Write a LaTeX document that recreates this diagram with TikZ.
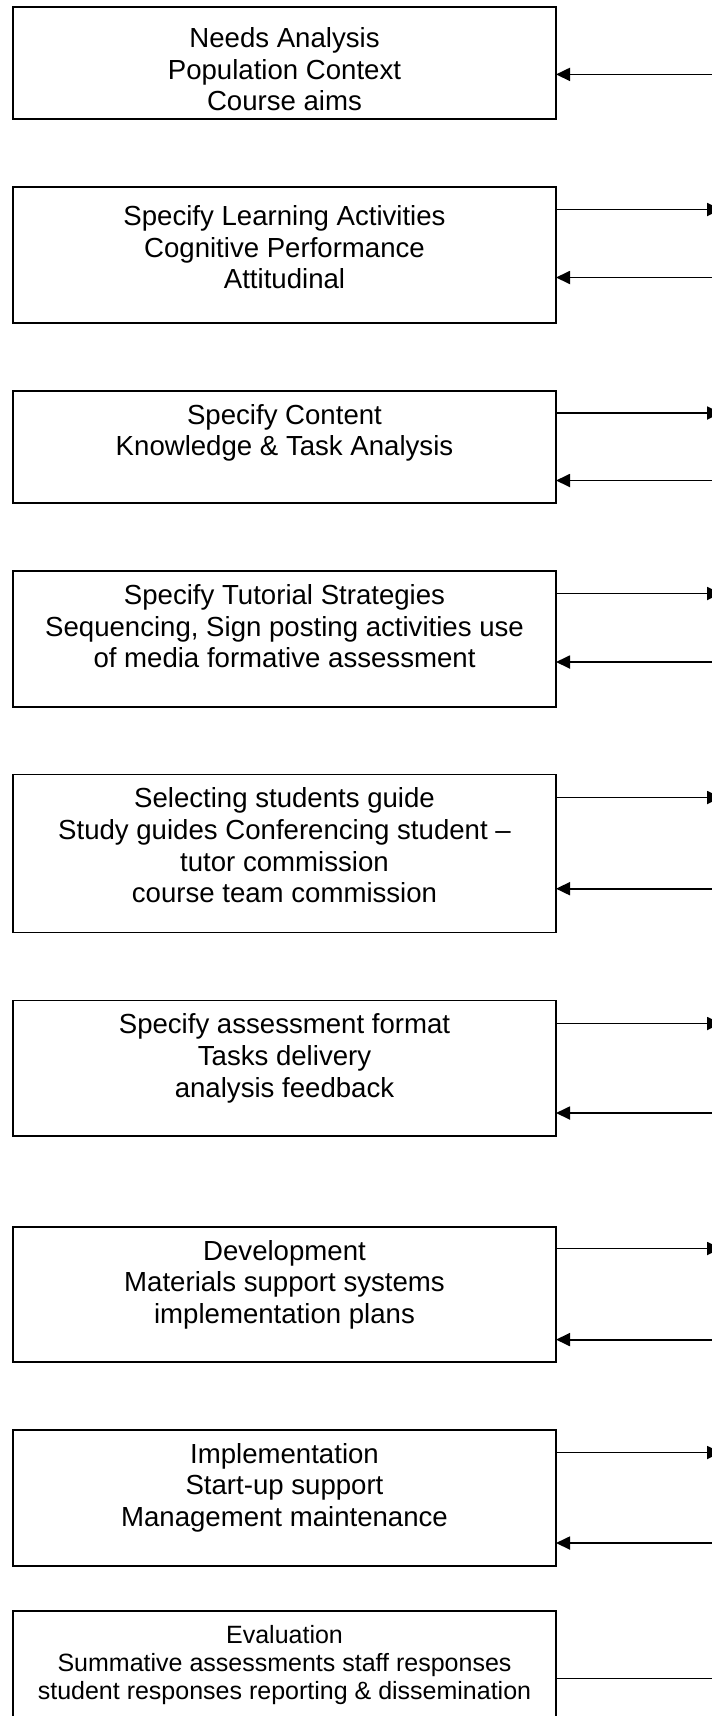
\documentclass[tikz,border=0pt]{standalone}
\usepackage{fontspec}
\setmainfont{Liberation Sans}
\usetikzlibrary{arrows.meta}
\begin{document}
\begin{tikzpicture}[x=1pt, y=-1pt,
  stage/.style={draw=black, line width=1.9pt, rectangle, anchor=north west,
    inner sep=0pt, outer sep=0pt, minimum width=543pt},
  stagetext/.style={anchor=north, align=center, inner sep=0pt,
    font=\fontsize{27.6}{31.6}\selectfont},
  smalltext/.style={stagetext, font=\fontsize{25}{27.6}\selectfont},
  link/.style={line width=1.8pt, -{Triangle[length=14pt,width=13pt]}},
  plain/.style={line width=1.8pt}
]
\useasboundingbox (0,0) rectangle (712,1716);
\clip (0,0) rectangle (712,1716);

% stage boxes
\node[stage, minimum height=112.3pt] (s1) at (13,6.7) {};
\node[stage, minimum height=135.7pt] (s2) at (13,187.3) {};
\node[stage, minimum height=112.7pt] (s3) at (13,390.7) {};
\node[stage, minimum height=135.7pt] (s4) at (13,571.3) {};
\node[stage, minimum height=158pt]   (s5) at (13,774.5) {};
\node[stage, minimum height=135.8pt] (s6) at (13,1000.5) {};
\node[stage, minimum height=135pt]   (s7) at (13,1227) {};
\node[stage, minimum height=136.4pt] (s8) at (13,1430) {};
\node[stage, minimum height=150pt]   (s9) at (13,1611.3) {};

% stage texts
\node[stagetext] (t1) at ([yshift=-18.5pt]s1.north) {\strut Needs Analysis\\Population Context\\Course aims};
\node[stagetext] (t2) at ([yshift=-16pt]s2.north) {\strut Specify Learning Activities\\Cognitive Performance\\Attitudinal};
\node[stagetext] (t3) at ([yshift=-11pt]s3.north) {\strut Specify Content\\Knowledge \& Task Analysis};
\node[stagetext] (t4) at ([yshift=-11pt]s4.north) {\strut Specify Tutorial Strategies\\Sequencing, Sign posting activities use\\of media formative assessment};
\node[stagetext] (t5) at ([yshift=-11pt]s5.north) {\strut Selecting students guide\\Study guides Conferencing student –\\tutor commission\\course team commission};
\node[stagetext] (t6) at ([yshift=-11pt]s6.north) {\strut Specify assessment format\\Tasks delivery\\analysis feedback};
\node[stagetext] (t7) at ([yshift=-11pt]s7.north) {\strut Development\\Materials support systems\\implementation plans};
\node[stagetext] (t8) at ([yshift=-11pt]s8.north) {\strut Implementation\\Start-up support\\Management maintenance};
\node[smalltext] (t9) at ([yshift=-13pt]s9.north) {\strut Evaluation\\Summative assessments staff responses\\student responses reporting \& dissemination};

% free ends of the connectors on the right
\coordinate (i1) at (712,74.4);
\coordinate (o2) at (721,209.5);  \coordinate (i2) at (712,277.5);
\coordinate (o3) at (721,413);    \coordinate (i3) at (712,480.5);
\coordinate (o4) at (721,593.5);  \coordinate (i4) at (712,662);
\coordinate (o5) at (721,797.5);  \coordinate (i5) at (712,888.7);
\coordinate (o6) at (721,1023.5); \coordinate (i6) at (712,1113);
\coordinate (o7) at (721,1248.5); \coordinate (i7) at (712,1339.6);
\coordinate (o8) at (721,1452.5); \coordinate (i8) at (712,1543);
\coordinate (o9) at (712,1678.5);

% connectors
\draw[link] (i1) -- (s1.east |- i1);
\draw[link] (s2.east |- o2) -- (o2);
\draw[link] (i2) -- (s2.east |- i2);
\draw[link] (s3.east |- o3) -- (o3);
\draw[link] (i3) -- (s3.east |- i3);
\draw[link] (s4.east |- o4) -- (o4);
\draw[link] (i4) -- (s4.east |- i4);
\draw[link] (s5.east |- o5) -- (o5);
\draw[link] (i5) -- (s5.east |- i5);
\draw[link] (s6.east |- o6) -- (o6);
\draw[link] (i6) -- (s6.east |- i6);
\draw[link] (s7.east |- o7) -- (o7);
\draw[link] (i7) -- (s7.east |- i7);
\draw[link] (s8.east |- o8) -- (o8);
\draw[link] (i8) -- (s8.east |- i8);
\draw[plain] (s9.east |- o9) -- (o9);
\end{tikzpicture}
\end{document}
